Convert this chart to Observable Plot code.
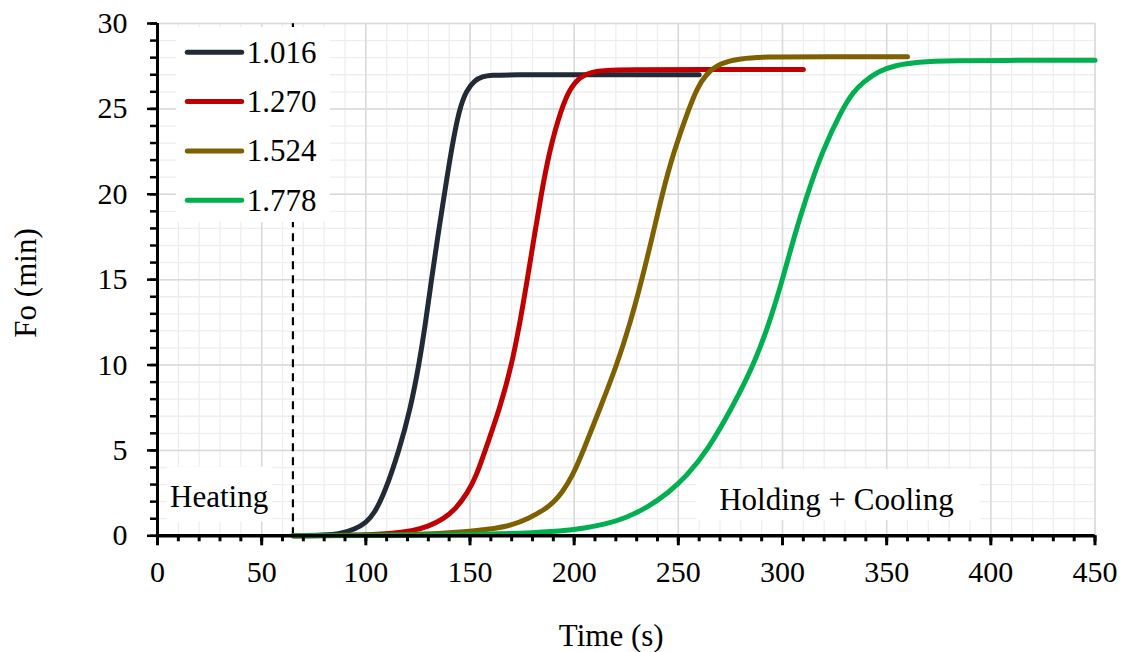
<!DOCTYPE html>
<html>
<head>
<meta charset="utf-8">
<script src="https://cdn.jsdelivr.net/npm/d3@7"></script>
<script src="https://cdn.jsdelivr.net/npm/@observablehq/plot@0.6"></script>
<style>
  body { margin: 0; background: #fff; }
  #wrap { position: relative; width: 1128px; height: 652px; font-family: "Liberation Serif", "Times New Roman", serif; }
  #legend { position: absolute; left: 176px; top: 27px; }
</style>
</head>
<body>
<div id="wrap"></div>
<script>
// ---- data ----
const seriesNames = ["1.016", "1.270", "1.524", "1.778"];
const seriesColors = ["#222a35", "#c00000", "#7f6000", "#00b050"];

const time1016 = [65, 80, 88, 95, 100, 104, 109, 116, 121.5, 125.5, 128.7, 131.5, 134.5, 137.7, 140.9, 144.8, 148.4, 152, 156, 160, 170, 200, 260];
const fo1016   = [0, 0.03, 0.12, 0.4, 0.75, 1.3, 2.5, 5, 7.5, 10, 12.5, 15, 17.5, 20, 22.5, 25, 26.1, 26.65, 26.9, 26.97, 27.0, 27.0, 27.0];

const time1270 = [65, 100, 113, 123, 130, 137.5, 143, 148.8, 153, 157.3, 164.4, 170, 174, 177.5, 180.8, 184.2, 188, 193.8, 198, 203, 208, 215, 225, 260, 310];
const fo1270   = [0, 0.04, 0.14, 0.31, 0.54, 1.0, 1.56, 2.5, 3.5, 5, 7.5, 10, 12.5, 15, 17.5, 20, 22.5, 25, 26.2, 26.9, 27.15, 27.25, 27.3, 27.3, 27.3];

const time1524 = [65, 120, 140, 160, 170, 178, 186, 190, 194, 199, 204.5, 212.5, 220.5, 227, 232.5, 237.5, 242.2, 247.8, 255, 259, 263, 270, 280, 290, 320, 360];
const fo1524   = [0, 0.05, 0.15, 0.38, 0.62, 1.0, 1.55, 1.95, 2.5, 3.45, 5, 7.5, 10, 12.5, 15, 17.5, 20, 22.5, 25, 26.2, 27.0, 27.7, 27.95, 28.05, 28.05, 28.05];

const time1778 = [65, 120, 150, 175, 194, 205, 215, 224, 235, 245, 254, 264, 275.8, 286.2, 293.8, 300, 305.5, 311.9, 319, 328.7, 334, 339, 346, 354, 365, 380, 420, 450];
const fo1778   = [0, 0.02, 0.06, 0.15, 0.27, 0.45, 0.68, 1.0, 1.65, 2.5, 3.5, 5, 7.5, 10, 12.5, 15, 17.5, 20, 22.5, 25, 26, 26.6, 27.2, 27.55, 27.75, 27.82, 27.85, 27.85];

const xTicks = [0, 50, 100, 150, 200, 250, 300, 350, 400, 450];
const yTicks = [0, 5, 10, 15, 20, 25, 30];
const phaseBoundary = 65;
const annotations = [
  { label: "Heating", x: 29.6, y: 2.25, x1: 4.8, x2: 55.2, y1: 0.8, y2: 4.02 },
  { label: "Holding + Cooling", x: 325.9, y: 2.1, x1: 259, x2: 395, y1: 0.9, y2: 3.87 }
];

// ---- build table ----
const times = [time1016, time1270, time1524, time1778];
const fos = [fo1016, fo1270, fo1524, fo1778];
const rows = [];
seriesNames.forEach((name, i) => {
  times[i].forEach((t, j) => rows.push({ series: name, time: t, fo: fos[i][j] }));
});

const font = "Liberation Serif, Times New Roman, serif";

const plot = Plot.plot({
  width: 1128,
  height: 652,
  marginLeft: 157,
  marginRight: 33.5,
  marginTop: 23,
  marginBottom: 116.7,
  style: { fontFamily: font, background: "#fff", overflow: "visible" },
  x: { domain: [0, 450] },
  y: { domain: [0, 30] },
  color: { domain: seriesNames, range: seriesColors },
  marks: [
    Plot.gridX({ ticks: d3.range(0, 451, 10), stroke: "#eeeeee", strokeOpacity: 1, strokeWidth: 1.3 }),
    Plot.gridY({ ticks: d3.range(0, 31, 1), stroke: "#eeeeee", strokeOpacity: 1, strokeWidth: 1.3 }),
    Plot.gridX({ ticks: xTicks, stroke: "#d9d9d9", strokeOpacity: 1, strokeWidth: 1.5 }),
    Plot.gridY({ ticks: yTicks, stroke: "#d9d9d9", strokeOpacity: 1, strokeWidth: 1.5 }),
    Plot.rect(annotations, { x1: "x1", x2: "x2", y1: "y1", y2: "y2", fill: "#fff" }),
    Plot.ruleX([phaseBoundary], { y1: 0, y2: 30, stroke: "#000", strokeWidth: 2.2, strokeDasharray: "8,6" }),
    Plot.line(rows, { x: "time", y: "fo", z: "series", stroke: "series", strokeWidth: 5, curve: "basis", strokeLinecap: "round", strokeLinejoin: "round" }),
    Plot.ruleY([0], { x1: 0, x2: 450, stroke: "#000", strokeWidth: 3.5 }),
    Plot.ruleX([0], { y1: 0, y2: 30, stroke: "#000", strokeWidth: 3 }),
    Plot.axisX({ ticks: d3.range(0, 451, 10), tickSize: 6, text: null, strokeWidth: 3, stroke: "#000" }),
    Plot.axisX({ ticks: xTicks, tickSize: 10, tickPadding: 15, strokeWidth: 3, stroke: "#000", fontSize: 30, fill: "#000", fontFamily: font, label: null, tickFormat: d => String(d) }),
    Plot.axisY({ ticks: d3.range(0, 31, 1), tickSize: 7, text: null, strokeWidth: 2.5, stroke: "#000" }),
    Plot.axisY({ ticks: yTicks, tickSize: 10, tickPadding: 20, strokeWidth: 2.5, stroke: "#000", fontSize: 30, fill: "#000", fontFamily: font, label: null, tickFormat: d => String(d) }),
    Plot.text(annotations, { x: "x", y: "y", text: "label", fontSize: 31, fill: "#000", fontFamily: font }),
    Plot.text(["Time (s)"], { frameAnchor: "bottom", textAnchor: "middle", lineAnchor: "middle", dy: 100, dx: -15, fontSize: 31, fill: "#000", fontFamily: font }),
    Plot.text(["Fo (min)"], { frameAnchor: "left", textAnchor: "middle", lineAnchor: "middle", dx: -131.7, dy: 3.3, rotate: -90, fontSize: 31, fill: "#000", fontFamily: font })
  ]
});

const wrap = document.getElementById("wrap");
wrap.appendChild(plot);

// ---- legend (inside plot area, white box) ----
const lw = 154, lh = 195;
const legend = d3.create("svg").attr("id", "legend").attr("width", lw).attr("height", lh);
legend.append("rect").attr("width", lw).attr("height", lh).attr("fill", "#fff");
seriesNames.forEach((name, i) => {
  const cy = 25.3 + i * 49.3;
  legend.append("line").attr("x1", 11.3).attr("x2", 65.7).attr("y1", cy).attr("y2", cy)
    .attr("stroke", seriesColors[i]).attr("stroke-width", 5).attr("stroke-linecap", "round");
  legend.append("text").attr("x", 70.7).attr("y", cy + 10.5).text(name)
    .attr("font-family", font).attr("font-size", 31).attr("fill", "#000");
});
wrap.appendChild(legend.node());
</script>
</body>
</html>
